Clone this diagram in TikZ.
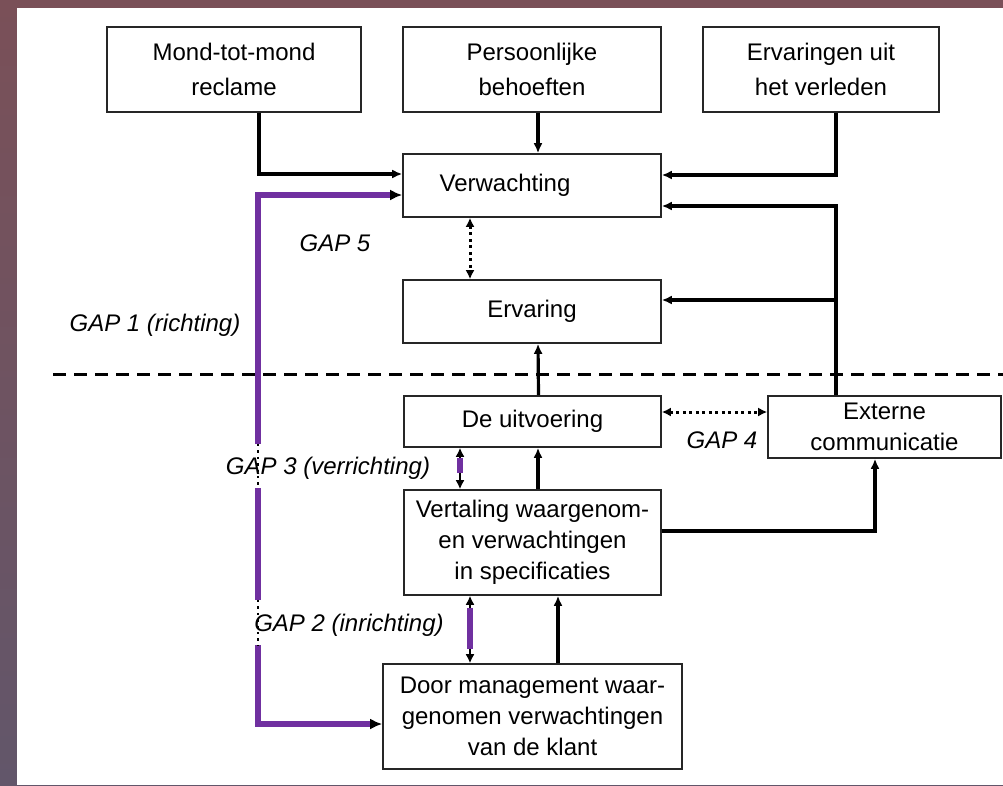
\documentclass[tikz,border=0pt]{standalone}
\usepackage{fontspec}
\setmainfont{Liberation Sans}
\usetikzlibrary{arrows.meta,calc}
\definecolor{gappurple}{HTML}{7030A0}
\definecolor{bgtop}{RGB}{122,80,88}
\definecolor{bgbot}{RGB}{98,86,106}
\tikzset{
  box/.style={draw=black!85, line width=1.6pt, fill=white, inner sep=0pt, align=center,
              font=\fontsize{24}{31}\selectfont},
  topbox/.style={box, minimum height=85pt, font=\fontsize{24}{35}\selectfont},
  conn/.style={line width=3.2pt, -{Latex[length=10pt,width=9pt]}},
  dotarrow/.style={line width=3pt, dash pattern=on 3pt off 3.5pt, {Latex[length=9pt,width=9pt]}-{Latex[length=9pt,width=9pt]}},
  thinarrow/.style={line width=1.6pt, {Latex[length=9pt,width=9pt]}-{Latex[length=9pt,width=9pt]}},
  purpleseg/.style={draw=gappurple, line width=6pt},
  purplearrow/.style={draw=gappurple, line width=6.5pt, -{Latex[black,length=12pt,width=11pt]}},
  dotseg/.style={line width=2.4pt, dash pattern=on 2.4pt off 4pt},
  gaplabel/.style={font=\fontsize{24}{28}\selectfont\itshape, inner sep=0pt},
}
\begin{document}
\begin{tikzpicture}[x=1pt,y=-1pt]
\useasboundingbox (0,0) rectangle (1003,785);
\shade[top color=bgtop, bottom color=bgbot] (0,0) rectangle (1003,785);
\fill[white] (17,8) rectangle (1003,785);

% boxes
\node[topbox, minimum width=254pt] (mond) at (234,69.5) {Mond-tot-mond\\reclame};
\node[topbox, minimum width=258pt] (pers) at (532,69.5) {Persoonlijke\\behoeften};
\node[topbox, minimum width=236pt] (erv) at (821,69.5) {Ervaringen uit\\het verleden};
\node[box, minimum width=258pt, minimum height=63pt] (verw) at (532,185.5) {\raisebox{3pt}{Verwachting}\hspace*{54pt}};
\node[box, minimum width=258pt, minimum height=63pt] (ervaring) at (532,311.5) {Ervaring};
\node[box, minimum width=257pt, minimum height=51pt] (uitv) at (532.5,421.5) {De uitvoering};
\node[box, minimum width=233pt, minimum height=62pt] (ext) at (884.5,427) {Externe\\communicatie};
\node[box, minimum width=257pt, minimum height=105pt] (vert) at (532.5,542.5) {Vertaling waargenom-\\en verwachtingen\\in specificaties};
\node[box, minimum width=299pt, minimum height=105pt] (door) at (532.5,716.5) {Door management waar-\\genomen verwachtingen\\van de klant};

% dashed separator
\coordinate (dl) at (53,374);
\coordinate (dr) at (1003,374);
\draw[line width=3pt, dash pattern=on 13pt off 8pt] (dl) -- (dr);

% inputs to Verwachting
\draw[conn] ([xshift=25pt]mond.south) |- ([yshift=11.5pt]verw.west);
\draw[conn] ([xshift=6pt]pers.south) -- ([xshift=6pt]verw.north);
\draw[conn] ([xshift=15pt]erv.south) |- ([yshift=10.5pt]verw.east);

% Externe communicatie feedback
\coordinate (xc) at ([xshift=-48.5pt]ext.north);
\coordinate (ve) at ([yshift=-20.5pt]verw.east);
\coordinate (ee) at ([yshift=11.5pt]ervaring.east);
\draw[conn] (xc) |- (ve);
\draw[conn] (ee -| xc) -- (ee);

% vertical flow
\draw[conn] ([xshift=6pt]uitv.north) -- ([xshift=6pt]ervaring.south);
\draw[conn] ([xshift=5.5pt]vert.north) -- ([xshift=5.5pt]uitv.south);
\draw[conn] ([xshift=25.5pt]door.north) -- ([xshift=25.5pt]vert.south);
\draw[conn] ([yshift=11.5pt]vert.east) -| ([xshift=-9.5pt]ext.south);

% GAP 5 and GAP 4 dotted arrows
\draw[dotarrow] ([xshift=-62pt]verw.south) -- ([xshift=-62pt]ervaring.north);
\coordinate (u4) at ([yshift=9.5pt]uitv.east);
\draw[dotarrow] (u4) -- (u4 -| ext.west);

% GAP 3 and GAP 2 arrows
\coordinate (g3a) at ([xshift=-72.5pt]uitv.south);
\coordinate (g3b) at ([xshift=-72.5pt]vert.north);
\draw[thinarrow] (g3a) -- (g3b);
\draw[purpleseg] ($(g3a)+(0,10)$) -- ($(g3b)+(0,-16)$);
\coordinate (g2a) at ([xshift=-62.5pt]vert.south);
\coordinate (g2b) at ([xshift=-62.5pt]door.north);
\draw[thinarrow] (g2a) -- (g2b);
\draw[purpleseg] ($(g2a)+(0,12)$) -- ($(g2b)+(0,-14)$);

% GAP 1 big purple line
\coordinate (pt) at ([yshift=-9.5pt]verw.west);
\coordinate (pb) at ([yshift=-7.5pt]door.west);
\coordinate (p1) at (258,444);
\coordinate (p2) at (258,488);
\coordinate (p3) at (258,600);
\coordinate (p4) at (258,645);
\draw[purplearrow] (p1) -- (p1 |- pt) -- (pt);
\draw[purpleseg] (p2) -- (p3);
\draw[purplearrow] (p4) -- (p4 |- pb) -- (pb);
\draw[dotseg] (p1) -- (p2);
\draw[dotseg] (p3) -- (p4);

% labels
\node[gaplabel] (l5) at (335,243) {GAP 5};
\node[gaplabel] (l1) at (155,325) {GAP 1 (richting)};
\node[gaplabel] (l3) at (328,468) {GAP 3 (verrichting)};
\node[gaplabel] (l2) at (349,625) {GAP 2 (inrichting)};
\node[gaplabel] (l4) at (722,440) {GAP 4};
\end{tikzpicture}
\end{document}
